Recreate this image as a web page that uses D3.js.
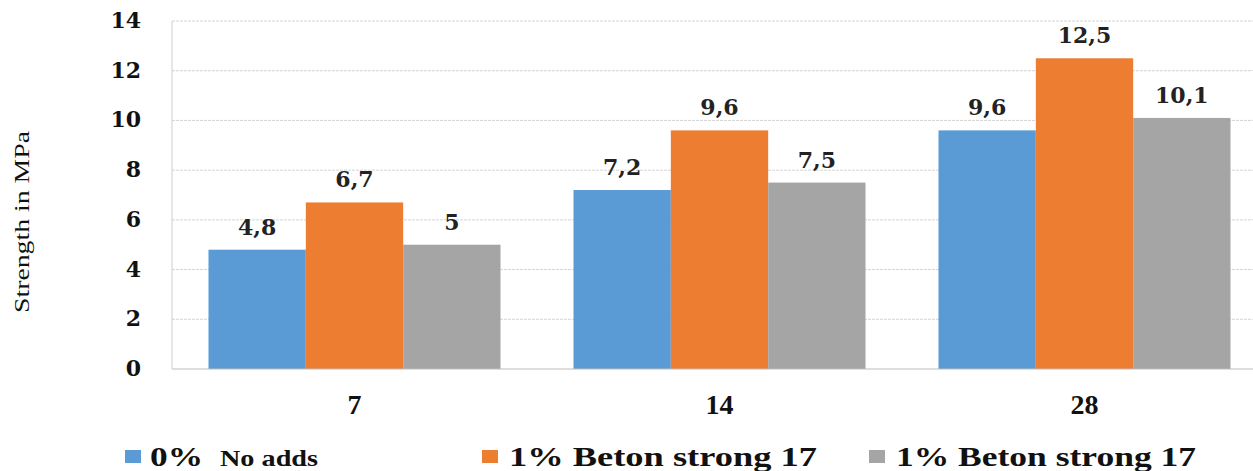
<!DOCTYPE html>
<html>
<head>
<meta charset="utf-8">
<script src="https://cdn.jsdelivr.net/npm/d3@7"></script>
<style>
  body { margin: 0; background: #fff; }
  svg { display: block; }
</style>
</head>
<body>
<div id="chart"></div>
<script>
//data
var ages = ["7", "14", "28"];
var seriesNames = ["0%", "1% Beton strong 17", "1% Beton strong 17"];
var seriesSub = ["No adds", "", ""];
var noAdds = [4.8, 7.2, 9.6];
var beton1 = [6.7, 9.6, 12.5];
var beton2 = [5.0, 7.5, 10.1];
var yTicks = [0, 2, 4, 6, 8, 10, 12, 14];
var colors = ["#5b9bd5", "#ed7d31", "#a5a5a5"];

var width = 1253, height = 471;
var plot = {left: 172, right: 1267, top: 21, bottom: 369};

var svg = d3.select("#chart").append("svg")
    .attr("width", width)
    .attr("height", height);

var x0 = d3.scaleBand()
    .domain(ages)
    .range([plot.left, plot.right])
    .paddingInner(0.2)
    .paddingOuter(0.1);

var x1 = d3.scaleBand()
    .domain([0, 1, 2])
    .range([0, x0.bandwidth()]);

var y = d3.scaleLinear()
    .domain([0, 14])
    .range([plot.bottom, plot.top]);

var serif = "'DejaVu Serif', serif";
var times = "'Liberation Serif', 'Times New Roman', serif";

//gridlines
svg.append("g")
    .selectAll("line")
    .data(yTicks.filter(function (t) { return t > 0; }))
    .enter().append("line")
    .attr("x1", plot.left).attr("x2", width)
    .attr("y1", function (d) { return y(d); })
    .attr("y2", function (d) { return y(d); })
    .attr("stroke", "#d4d4d4")
    .attr("stroke-width", 1)
    .attr("stroke-dasharray", "3,1");

//left axis line
svg.append("line")
    .attr("x1", plot.left).attr("x2", plot.left)
    .attr("y1", y(14)).attr("y2", y(0))
    .attr("stroke", "#cfcfcf");

//bars
var series = [noAdds, beton1, beton2];
var rows = [];
ages.forEach(function (a, i) {
  series.forEach(function (s, k) {
    rows.push({age: a, k: k, v: s[i]});
  });
});

svg.append("g")
    .selectAll("rect")
    .data(rows)
    .enter().append("rect")
    .attr("x", function (d) { return x0(d.age) + x1(d.k); })
    .attr("y", function (d) { return y(d.v); })
    .attr("width", x1.bandwidth())
    .attr("height", function (d) { return y(0) - y(d.v); })
    .attr("fill", function (d) { return colors[d.k]; });

//value labels
svg.append("g")
    .selectAll("text")
    .data(rows)
    .enter().append("text")
    .attr("x", function (d) { return x0(d.age) + x1(d.k) + x1.bandwidth() / 2; })
    .attr("y", function (d) { return y(d.v) - 15; })
    .attr("text-anchor", "middle")
    .style("font-family", serif)
    .style("font-weight", "bold")
    .style("font-size", "22px")
    .attr("fill", "#222")
    .text(function (d) { return String(d.v).replace(".", ","); });

//bottom axis line
svg.append("line")
    .attr("x1", plot.left).attr("x2", width)
    .attr("y1", y(0)).attr("y2", y(0))
    .attr("stroke", "#bdbdbd");

//y tick labels
svg.append("g")
    .selectAll("text")
    .data(yTicks)
    .enter().append("text")
    .attr("x", 141)
    .attr("y", function (d) { return y(d) + 7; })
    .attr("text-anchor", "end")
    .style("font-family", serif)
    .style("font-weight", "bold")
    .style("font-size", "22px")
    .attr("fill", "#111")
    .text(function (d) { return d; });

//category labels
svg.append("g")
    .selectAll("text")
    .data(ages)
    .enter().append("text")
    .attr("x", function (d) { return x0(d) + x0.bandwidth() / 2; })
    .attr("y", 414)
    .attr("text-anchor", "middle")
    .style("font-family", times)
    .style("font-weight", "bold")
    .style("font-size", "28px")
    .attr("fill", "#111")
    .text(function (d) { return d; });

//y axis title
svg.append("text")
    .attr("transform", "translate(29,222) rotate(-90)")
    .attr("text-anchor", "middle")
    .attr("textLength", 182)
    .attr("lengthAdjust", "spacingAndGlyphs")
    .style("font-family", times)
    .style("font-size", "22px")
    .attr("fill", "#111")
    .text("Strength in MPa");

//legend
var legendX = [125, 482, 869];
var legendLen = [53, 308, 300];
var legend = svg.append("g")
    .selectAll("g")
    .data(seriesNames)
    .enter().append("g")
    .attr("transform", function (d, i) { return "translate(" + legendX[i] + ",0)"; });

legend.append("rect")
    .attr("x", 0).attr("y", 450)
    .attr("width", 16).attr("height", 13)
    .attr("fill", function (d, i) { return colors[i]; });

legend.append("text")
    .attr("x", function (d, i) { return i === 0 ? 25 : 27; })
    .attr("y", 466)
    .attr("textLength", function (d, i) { return legendLen[i]; })
    .attr("lengthAdjust", "spacingAndGlyphs")
    .style("font-family", times)
    .style("font-weight", "bold")
    .style("font-size", "28px")
    .attr("fill", "#111")
    .text(function (d) { return d; });

legend.filter(function (d, i) { return seriesSub[i] !== ""; })
    .append("text")
    .attr("x", 95)
    .attr("y", 466)
    .attr("textLength", 98)
    .attr("lengthAdjust", "spacingAndGlyphs")
    .style("font-family", times)
    .style("font-weight", "bold")
    .style("font-size", "23px")
    .attr("fill", "#111")
    .text(function (d, i) { return seriesSub[i]; });
</script>
</body>
</html>
